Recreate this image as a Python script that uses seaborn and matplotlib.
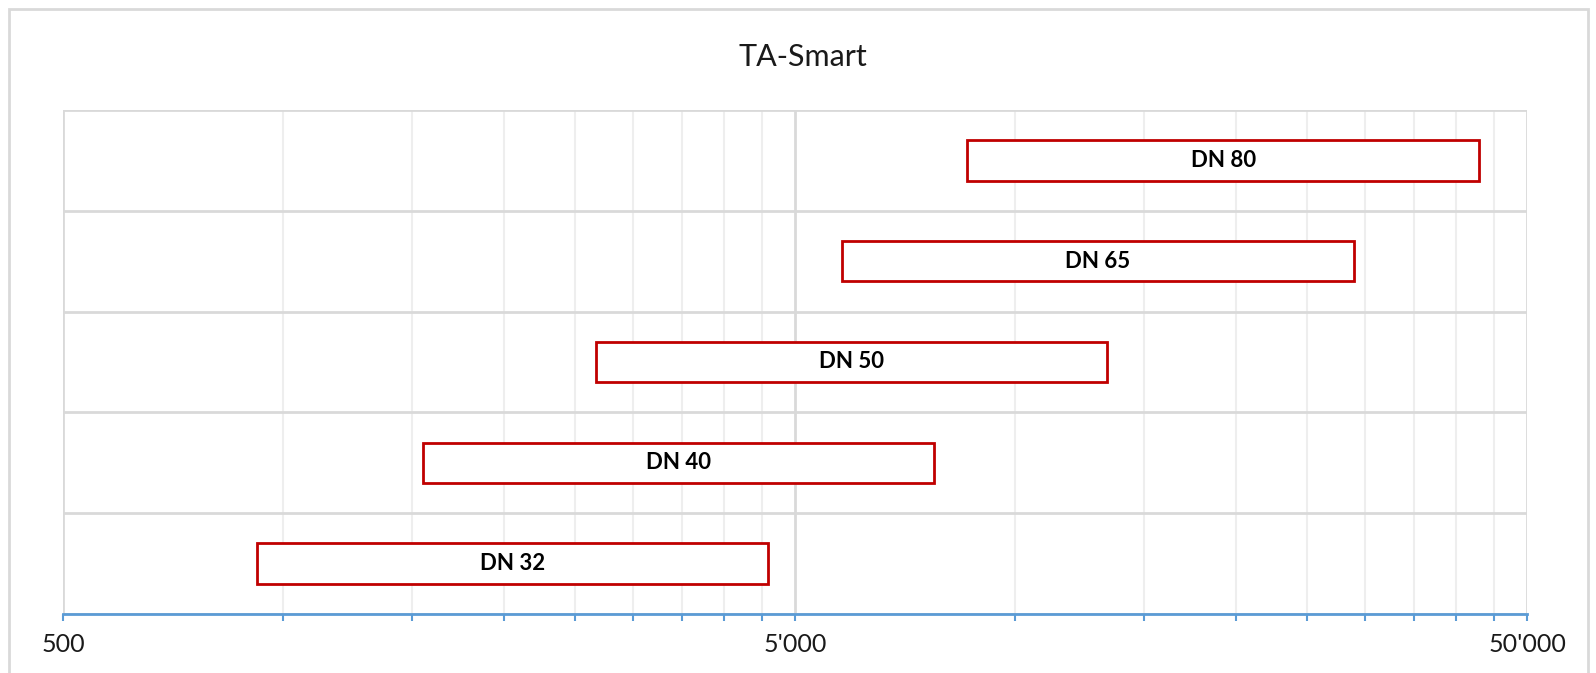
import matplotlib
matplotlib.use("Agg")
import matplotlib.pyplot as plt
import matplotlib.ticker as mticker
from matplotlib.patches import Rectangle
import numpy as np
import pandas as pd
import seaborn as sns

# ---- data ----
categories = ["DN 80", "DN 65", "DN 50", "DN 40", "DN 32"]
flow_min = [8600, 5800, 2670, 1550, 920]
flow_max = [43000, 29000, 13350, 7750, 4600]
major_ticks = [500, 5000, 50000]
title = "TA-Smart"

df = pd.DataFrame({"category": categories, "low": flow_min, "high": flow_max})

sns.set_style("white")
plt.rcParams["font.family"] = ["Lato", "DejaVu Sans"]

W, H = 1596, 673
fig = plt.figure(figsize=(W / 100, H / 100), dpi=100)
ax = fig.add_axes([63 / W, 1 - 614 / H, (1527 - 63) / W, (614 - 110) / H])

sns.barplot(data=df, x="high", y="category", order=categories, orient="h",
            color="white", saturation=1, edgecolor="#C00000", linewidth=2,
            width=0.4, ax=ax, zorder=3)

# turn bars into floating ranges low..high
for p in ax.patches:
    idx = int(round(p.get_y() + p.get_height() / 2))
    lo = df["low"].iloc[idx]
    hi = df["high"].iloc[idx]
    p.set_x(lo)
    p.set_width(hi - lo)

ax.set_xscale("log")
ax.set_xlim(major_ticks[0], major_ticks[-1])
ax.set_ylim(len(categories) - 0.5, -0.5)

for i, row in df.iterrows():
    ax.text(np.sqrt(row["low"] * row["high"]), i, row["category"],
            ha="center", va="center", fontsize=16, fontweight="bold",
            color="black", zorder=4)

# x ticks
ax.xaxis.set_major_locator(mticker.FixedLocator(major_ticks))
minor = [m * k for m in major_ticks[:-1] for k in range(2, 10)]
ax.xaxis.set_minor_locator(mticker.FixedLocator(minor))
ax.xaxis.set_major_formatter(
    mticker.FuncFormatter(lambda v, pos: f"{v:,.0f}".replace(",", "'")))
ax.xaxis.set_minor_formatter(mticker.NullFormatter())
ax.tick_params(axis="x", which="both", bottom=True, direction="out",
               length=5, width=1.5, color="#5B9BD5", labelsize=18, pad=9,
               labelcolor="#1a1a1a")

# y: gridlines at band boundaries
ax.set_yticks([])
ax.set_yticks(np.arange(-0.5, len(categories), 1), minor=True)
ax.tick_params(axis="y", which="both", length=0, labelleft=False)
ax.set_ylabel("")
ax.set_xlabel("")

ax.set_axisbelow(True)
ax.grid(axis="x", which="major", color="#D9D9D9", linewidth=2)
ax.grid(axis="x", which="minor", color="#EEEEEE", linewidth=1.5)
ax.grid(axis="y", which="minor", color="#D9D9D9", linewidth=2)

for s in ["top", "left", "right"]:
    ax.spines[s].set_visible(False)
ax.spines["bottom"].set_color("#5B9BD5")
ax.spines["bottom"].set_linewidth(2)
ax.spines["bottom"].set_zorder(5)

fig.text(803 / W, 1 - 57 / H, title, ha="center", va="center", fontsize=22,
         color="#1a1a1a")

fig.patches.append(Rectangle((9 / W, -0.05), (1588 - 9) / W, 1.05 - 9 / H,
                             transform=fig.transFigure, fill=False,
                             edgecolor="#D9D9D9", linewidth=2))

fig.savefig("out.png", dpi=100, facecolor="white")
